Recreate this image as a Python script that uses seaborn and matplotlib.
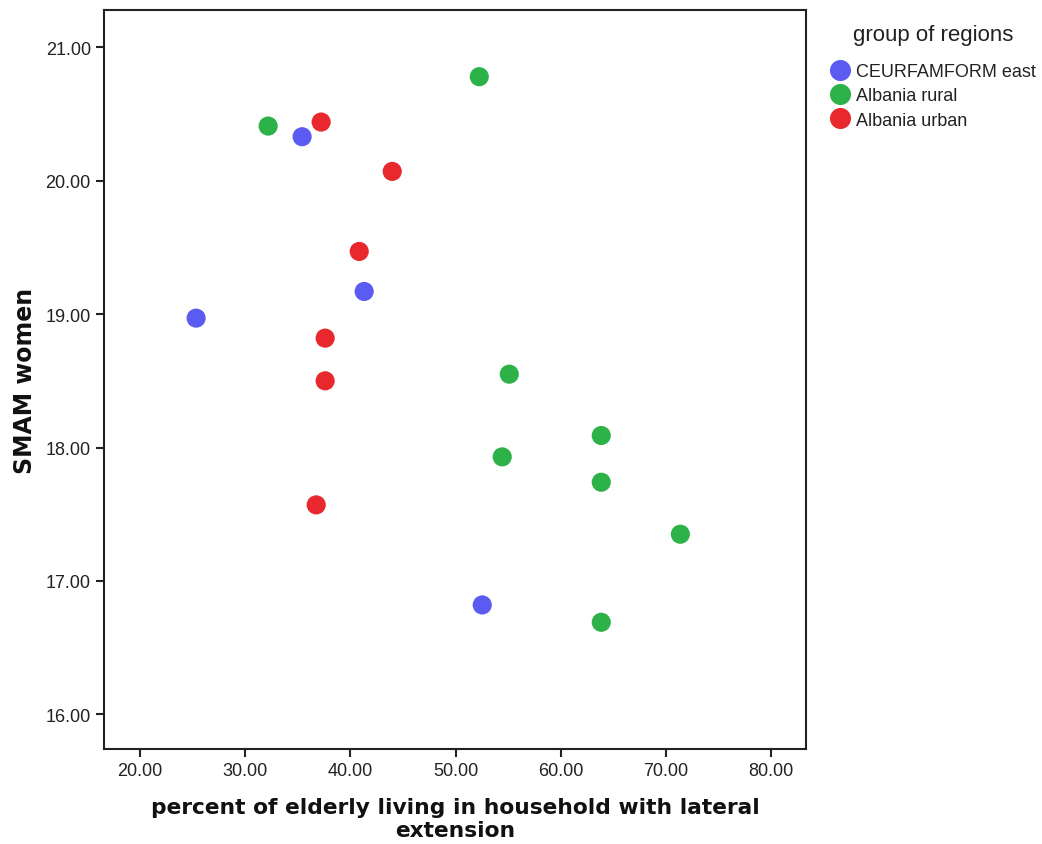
import matplotlib
matplotlib.use("Agg")
import matplotlib.pyplot as plt
import seaborn as sns
import pandas as pd

# Data
groups = ["CEURFAMFORM east", "Albania rural", "Albania urban"]

east_x = [35.41, 41.31, 25.33, 52.54]
east_y = [20.33, 19.17, 18.97, 16.82]

rural_x = [32.18, 52.26, 55.11, 63.86, 54.44, 63.86, 71.38, 63.86]
rural_y = [20.41, 20.78, 18.55, 18.09, 17.93, 17.74, 17.35, 16.69]

urban_x = [37.22, 43.98, 40.84, 37.60, 37.60, 36.75]
urban_y = [20.44, 20.07, 19.47, 18.82, 18.50, 17.57]

x_ticks = [20, 30, 40, 50, 60, 70, 80]
y_ticks = [16, 17, 18, 19, 20, 21]

colors = {"CEURFAMFORM east": "#5b5bf2", "Albania rural": "#2db24a", "Albania urban": "#e8282d"}

df = pd.DataFrame({
    "x": east_x + rural_x + urban_x,
    "y": east_y + rural_y + urban_y,
    "group": [groups[0]] * len(east_x) + [groups[1]] * len(rural_x) + [groups[2]] * len(urban_x),
})

sns.set_theme(style="white")
plt.rcParams["font.family"] = ["Liberation Sans", "DejaVu Sans"]

fig = plt.figure(figsize=(10.42, 8.45), dpi=100)
ax = fig.add_axes([104 / 1042, 1 - 750 / 845, (806 - 104) / 1042, (750 - 11) / 845])

sns.scatterplot(data=df, x="x", y="y", hue="group", hue_order=groups, palette=colors,
                s=190, edgecolor="none", ax=ax, legend=True)

ax.set_xlim(16.57, 83.33)
ax.set_ylim(15.74, 21.28)
ax.set_xticks(x_ticks)
ax.set_xticklabels([f"{v:.2f}" for v in x_ticks])
ax.set_yticks(y_ticks)
ax.set_yticklabels([f"{v:.2f}" for v in y_ticks])
ax.tick_params(axis="both", which="major", direction="out", length=6, width=1.5,
               color="#222222", labelsize=13, labelcolor="#222222", bottom=True, left=True)
for sp in ax.spines.values():
    sp.set_color("#222222")
    sp.set_linewidth(1.5)
ax.grid(False)

ax.set_xlabel("percent of elderly living in household with lateral\nextension",
              fontsize=15.7, fontweight="bold", family="DejaVu Sans", color="#111111",
              linespacing=1.2, labelpad=13)
ax.set_ylabel("SMAM women", fontsize=17, fontweight="bold", family="DejaVu Sans",
              color="#111111", labelpad=6)

handles, labels = ax.get_legend_handles_labels()
ax.get_legend().remove()
leg = fig.legend(handles, labels, loc="upper left", bbox_to_anchor=(831 / 1042, 1 - 25 / 845),
                 frameon=False, title="group of regions", fontsize=13, title_fontsize=16,
                 handletextpad=0.4, labelspacing=0.4, borderpad=0.0, markerscale=1.1,
                 handlelength=1.0, borderaxespad=0.0)
leg._legend_box.sep = 13
leg.get_title().set_color("#222222")
for t in leg.get_texts():
    t.set_color("#222222")

fig.savefig("out.png", dpi=100)
